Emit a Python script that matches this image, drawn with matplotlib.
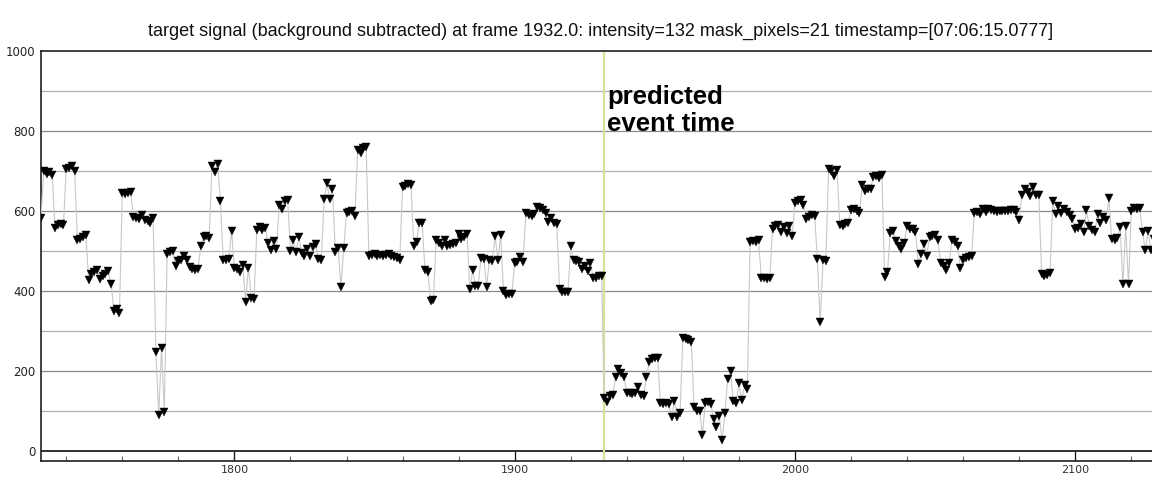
import numpy as np
import matplotlib
matplotlib.use("Agg")
import matplotlib.pyplot as plt
from matplotlib.ticker import MultipleLocator

# ---------------- data ----------------
first_frame = 1731
event_frame = 1932
title_text = ("target signal (background subtracted) at frame 1932.0: intensity=132 "
              "mask_pixels=21 timestamp=[07:06:15.0777]")
annotation_text = "predicted\nevent time"
x_ticks = [1800, 1900, 2000, 2100]
y_ticks = [0, 200, 400, 600, 800, 1000]

intensity = [
    583, 700, 693, 697, 690, 557, 565, 567, 565, 705,   # 1731-1740
    708, 712, 700, 526, 530, 534, 540, 428, 441, 447,   # 1741-1750
    451, 430, 437, 443, 449, 418, 350, 355, 345, 645,   # 1751-1760
    643, 644, 648, 585, 582, 580, 590, 578, 575, 570,   # 1761-1770
    581, 248, 90, 257, 97, 493, 497, 500, 461, 475,     # 1771-1780
    478, 488, 476, 459, 455, 451, 455, 511, 535, 537,   # 1781-1790
    533, 712, 697, 717, 625, 476, 478, 480, 550, 458,   # 1791-1800
    455, 448, 464, 373, 458, 383, 380, 553, 560, 552,   # 1801-1810
    556, 520, 503, 525, 505, 615, 605, 625, 627, 500,   # 1811-1820
    526, 497, 535, 494, 487, 505, 488, 510, 516, 480,   # 1821-1830
    477, 629, 669, 630, 654, 497, 507, 409, 507, 595,   # 1831-1840
    597, 600, 587, 752, 745, 757, 760, 487, 490, 493,   # 1841-1850
    488, 490, 486, 490, 491, 487, 485, 483, 478, 660,   # 1851-1860
    663, 668, 665, 511, 522, 570, 570, 452, 448, 375,   # 1861-1870
    378, 528, 520, 512, 527, 512, 515, 518, 520, 542,   # 1871-1880
    530, 535, 543, 405, 451, 412, 412, 483, 480, 410,   # 1881-1890
    478, 475, 537, 476, 539, 400, 390, 393, 393, 470,   # 1891-1900
    472, 485, 473, 595, 590, 588, 593, 610, 607, 603,   # 1901-1910
    595, 572, 583, 570, 568, 405, 398, 397, 398, 512,   # 1911-1920
    478, 475, 472, 455, 463, 450, 469, 433, 432, 436,   # 1921-1930
    437, 132, 122, 137, 140, 183, 205, 195, 185, 143,   # 1931-1940
    143, 142, 143, 160, 140, 137, 183, 222, 228, 232,   # 1941-1950
    233, 118, 117, 118, 117, 83, 125, 85, 95, 283,      # 1951-1960
    280, 278, 273, 108, 98, 100, 40, 120, 122, 117,     # 1961-1970
    78, 60, 86, 27, 93, 180, 199, 123, 120, 168,        # 1971-1980
    126, 163, 155, 522, 525, 523, 526, 433, 433, 430,   # 1981-1990
    431, 555, 562, 565, 548, 560, 545, 563, 537, 620,   # 1991-2000
    625, 628, 615, 580, 585, 590, 588, 480, 321, 476,   # 2001-2010
    475, 705, 700, 688, 702, 564, 563, 566, 570, 603,   # 2011-2020
    605, 600, 595, 665, 650, 655, 655, 685, 687, 683,   # 2021-2030
    690, 434, 447, 545, 550, 525, 512, 505, 520, 563,   # 2031-2040
    555, 555, 548, 466, 493, 518, 488, 535, 538, 540,   # 2041-2050
    526, 469, 461, 451, 469, 527, 522, 512, 458, 478,   # 2051-2060
    482, 484, 488, 595, 597, 592, 605, 598, 605, 602,   # 2061-2070
    600, 597, 600, 600, 600, 600, 603, 602, 598, 577,   # 2071-2080
    640, 655, 648, 638, 660, 640, 640, 443, 438, 440,   # 2081-2090
    445, 625, 593, 611, 595, 605, 598, 590, 580, 555,   # 2091-2100
    556, 567, 546, 602, 562, 553, 547, 593, 569, 585,   # 2101-2110
    578, 631, 530, 528, 533, 560, 416, 562, 416, 600,   # 2111-2120
    608, 605, 606, 547, 501, 549, 501, 530,             # 2121-2128
]
frames = first_frame + np.arange(len(intensity))

# ---------------- figure ----------------
W, H = 1152, 499
fig = plt.figure(figsize=(W / 100, H / 100), dpi=100)
fig.patch.set_facecolor("white")
ax = fig.add_axes([41 / W, 1 - 461 / H, 1 - 41 / W + 0.002, (461 - 51) / H])

ax.set_xlim(1731, 2128.2)
ax.set_ylim(-26, 1000)

# grid
for v in range(100, 1000, 100):
    col = "#8a8a8a" if v % 200 == 0 else "#b0b0b0"
    ax.axhline(v, color=col, lw=0.9, zorder=1)
ax.axhline(0, color="#202020", lw=1.3, zorder=1)

# event line
ax.axvline(event_frame, color="#d9e29a", lw=1.6, zorder=2)

# data
ax.plot(frames, intensity, color="#c8c8c8", lw=0.8, zorder=3)
ax.plot(frames, intensity, linestyle="none", marker="v", markersize=5.5,
        color="black", markeredgewidth=0.3, zorder=4)

ax.text(event_frame + 0.9, 916, annotation_text, fontsize=18.5, fontweight="bold",
        family="Liberation Sans", va="top", ha="left", color="black",
        linespacing=1.2, zorder=5)

# spines
for s in ["left", "bottom", "top"]:
    ax.spines[s].set_color("#202020")
    ax.spines[s].set_linewidth(1.2)
ax.spines["right"].set_visible(False)

ax.set_xticks(x_ticks)
ax.xaxis.set_minor_locator(MultipleLocator(20))
ax.set_yticks(y_ticks)
ax.tick_params(axis="x", which="major", direction="in", length=7, width=1,
               color="#202020", labelsize=8, labelcolor="#333333", pad=3)
ax.tick_params(axis="x", which="minor", direction="in", length=3.5, width=0.8,
               color="#606060")
ax.tick_params(axis="y", which="major", length=0, labelsize=8.5,
               labelcolor="#222222", pad=4)
for lab in ax.get_xticklabels() + ax.get_yticklabels():
    lab.set_family("DejaVu Sans")

fig.text(601 / W, 1 - 31 / H, title_text, ha="center", va="center",
         fontsize=13, family="Liberation Sans", color="#111111")

fig.savefig("out.png", dpi=100, facecolor="white")
